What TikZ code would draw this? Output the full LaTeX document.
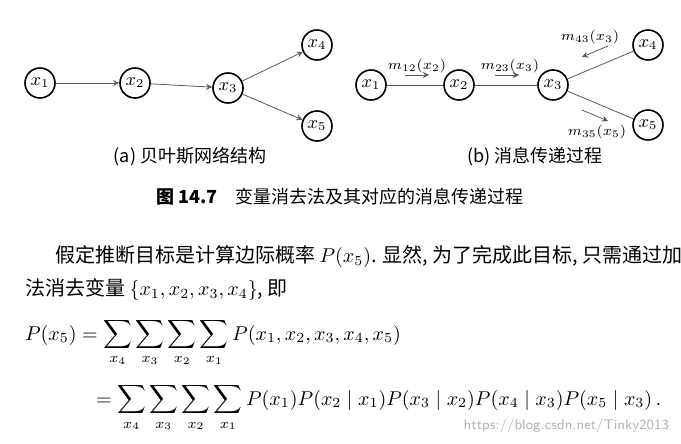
\documentclass[tikz,border=0pt]{standalone}
\usepackage{amsmath,amssymb}
\usepackage{fontspec}
\newfontfamily\cjk{Noto Sans CJK SC}
\usetikzlibrary{arrows,positioning,calc}

\begin{document}
\begin{tikzpicture}[x=0.5pt,y=-0.5pt,
    var/.style={draw, circle, thick, minimum size=15pt, inner sep=0pt, font=\small},
    edge/.style={draw, gray!70!black},
    msg/.style={->, >=stealth, gray!70!black},
    mlab/.style={font=\scriptsize, inner sep=1pt}]
    \useasboundingbox (0,0) rectangle (681,444);

    % (a) Bayesian network
    \node[var] (a1) at (40,83) {$x_1$};
    \node[var] (a2) at (135,83) {$x_2$};
    \node[var] (a3) at (228,88) {$x_3$};
    \node[var] (a4) at (317,45) {$x_4$};
    \node[var] (a5) at (317,126) {$x_5$};
    \draw[msg] (a1) -- (a2);
    \draw[msg] (a2) -- (a3);
    \draw[msg] (a3) -- (a4);
    \draw[msg] (a3) -- (a5);
    \node (capa) at (190,157) {\cjk\small (a) 贝叶斯网络结构};

    % (b) message passing
    \node[var] (b1) at (371,85) {$x_1$};
    \node[var] (b2) at (459,85) {$x_2$};
    \node[var] (b3) at (553,85) {$x_3$};
    \node[var] (b4) at (648,45) {$x_4$};
    \node[var] (b5) at (648,125) {$x_5$};
    \draw[edge] (b1) -- (b2);
    \draw[edge] (b2) -- (b3);
    \draw[edge] (b3) -- (b4);
    \draw[edge] (b3) -- (b5);

    \coordinate (m12s) at (405,75); \coordinate (m12e) at (429,75);
    \draw[msg] (m12s) -- (m12e);
    \node[mlab] at (417,66) {$m_{12}(x_2)$};
    \coordinate (m23s) at (495,75); \coordinate (m23e) at (519,75);
    \draw[msg] (m23s) -- (m23e);
    \node[mlab] at (510,66) {$m_{23}(x_3)$};
    \coordinate (m43s) at (608,46); \coordinate (m43e) at (582,57);
    \draw[msg] (m43s) -- (m43e);
    \node[mlab] at (590,37) {$m_{43}(x_3)$};
    \coordinate (m35s) at (582,110); \coordinate (m35e) at (608,121);
    \draw[msg] (m35s) -- (m35e);
    \node[mlab] at (597,132) {$m_{35}(x_5)$};
    \node (capb) at (535,157) {\cjk\small (b) 消息传递过程};

    % caption
    \node (fig) at (340,197) {\cjk\small\textbf{图 14.7}\quad 变量消去法及其对应的消息传递过程};

    % text
    \node[anchor=west] (l1) at (48,257) {\cjk 假定推断目标是计算边际概率 $P(x_5)$. 显然, 为了完成此目标, 只需通过加};
    \node[anchor=west] (l2) at (18,290) {\cjk 法消去变量 $\{x_1,x_2,x_3,x_4\}$, 即};

    % equation
    \node[anchor=west] (eq1) at (18,343) {$\displaystyle P(x_5)=\sum_{x_4}\sum_{x_3}\sum_{x_2}\sum_{x_1}P(x_1,x_2,x_3,x_4,x_5)$};
    \node[anchor=west] (eq2) at (89,408) {$\displaystyle =\sum_{x_4}\sum_{x_3}\sum_{x_2}\sum_{x_1}P(x_1)P(x_2\mid x_1)P(x_3\mid x_2)P(x_4\mid x_3)P(x_5\mid x_3)\,.$};

    \node[anchor=south east, font=\scriptsize, gray!60] (wm) at (676,440) {\sffamily https://blog.csdn.net/Tinky2013};
\end{tikzpicture}
\end{document}
